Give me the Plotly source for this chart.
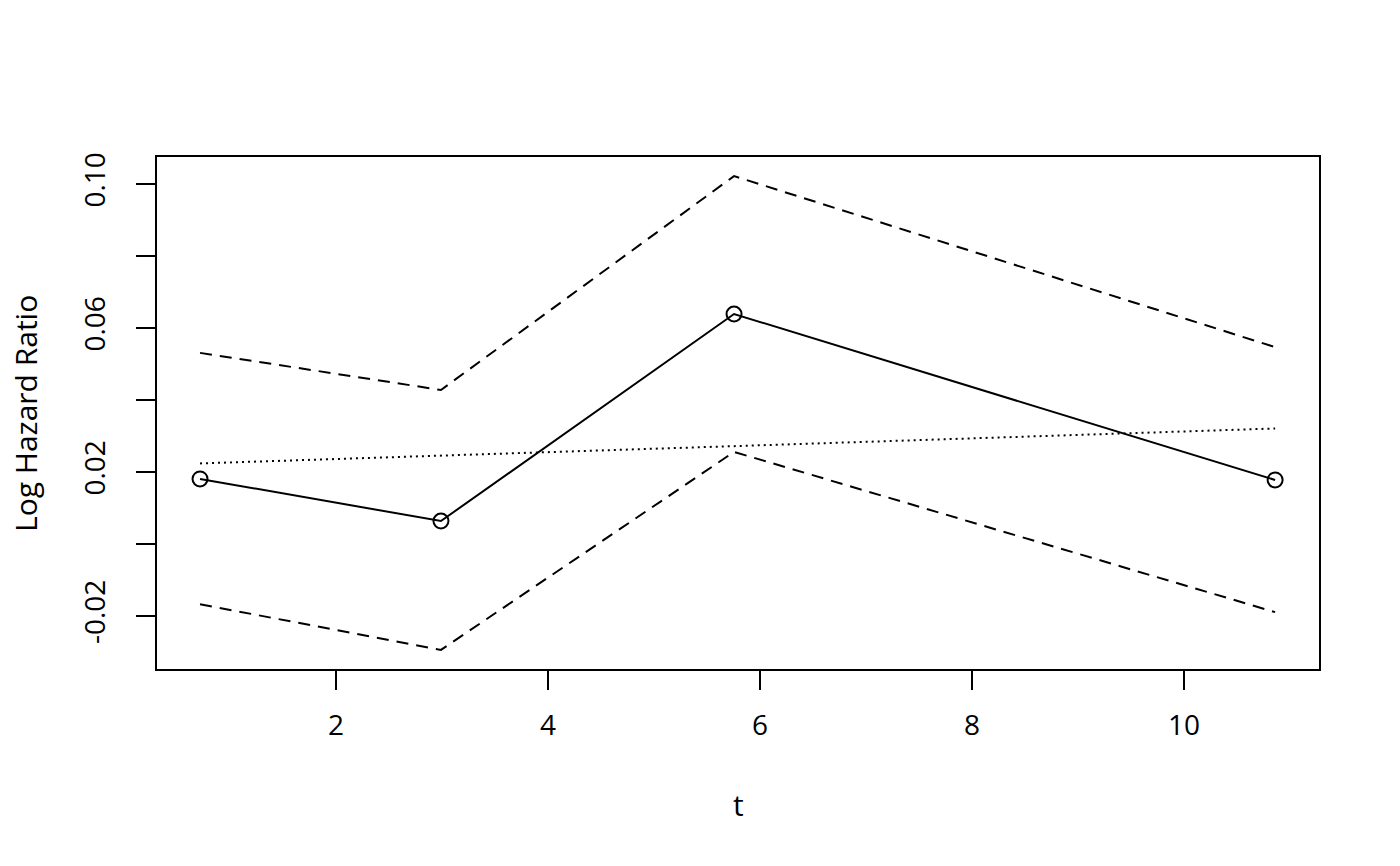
import plotly.graph_objects as go

t = [0.717, 2.99, 5.755, 10.86]
est = [0.0181, 0.0064, 0.0639, 0.0178]
upper = [0.0531, 0.0428, 0.1022, 0.0547]
lower = [-0.0167, -0.0294, 0.0256, -0.0189]
trend = [0.0224, 0.0245, 0.0272, 0.0321]

ytick_vals = [-0.02, 0.0, 0.02, 0.04, 0.06, 0.08, 0.10]
ytick_text = ["-0.02", "", "0.02", "", "0.06", "", "0.10"]
xtick_vals = [2, 4, 6, 8, 10]

FONT = "Open Sans"
fig = go.Figure()
fig.add_trace(go.Scatter(x=t, y=upper, mode="lines",
                         line=dict(color="black", width=2, dash="12px,8px")))
fig.add_trace(go.Scatter(x=t, y=lower, mode="lines",
                         line=dict(color="black", width=2, dash="12px,8px")))
fig.add_trace(go.Scatter(x=t, y=trend, mode="lines",
                         line=dict(color="black", width=2, dash="2px,4px")))
fig.add_trace(go.Scatter(x=t, y=est, mode="lines+markers",
                         line=dict(color="black", width=2),
                         marker=dict(symbol="circle-open", size=15,
                                     color="black", line=dict(width=2))))

fig.update_layout(
    width=1400, height=866,
    margin=dict(l=157, r=81, t=157, b=197),
    paper_bgcolor="white", plot_bgcolor="white",
    showlegend=False,
    font=dict(family=FONT, size=28, color="black"),
    xaxis=dict(range=[0.311, 11.274], tickvals=xtick_vals,
               ticks="outside", ticklen=19, tickwidth=2, tickcolor="black",
               showline=True, linecolor="black", linewidth=2, mirror=True,
               showgrid=False, zeroline=False, ticklabelstandoff=11),
    yaxis=dict(range=[-0.0347, 0.1075], tickvals=ytick_vals, ticktext=ytick_text,
               tickangle=-90,
               ticks="outside", ticklen=19, tickwidth=2, tickcolor="black",
               showline=True, linecolor="black", linewidth=2, mirror=True,
               showgrid=False, zeroline=False, ticklabelstandoff=20),
    annotations=[
        dict(text="t", xref="paper", yref="paper", x=0.5, y=-0.2656,
             showarrow=False, font=dict(family=FONT, size=30),
             xanchor="center", yanchor="middle"),
        dict(text="Log Hazard Ratio", xref="paper", yref="paper", x=-0.1136, y=0.5,
             showarrow=False, textangle=-90, font=dict(family=FONT, size=30),
             xanchor="center", yanchor="middle"),
    ],
)
fig.write_html("out.html", config={"displayModeBar": False},
               post_script="document.body.style.margin='0px';")
